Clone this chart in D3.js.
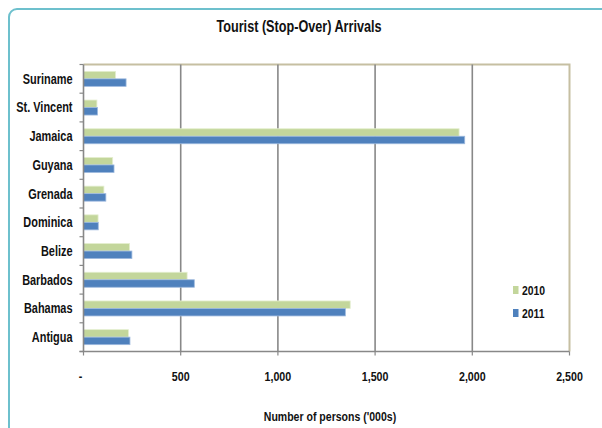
<!DOCTYPE html>
<html>
<head>
<meta charset="utf-8">
<script src="https://cdn.jsdelivr.net/npm/d3@7"></script>
<style>
  html, body { margin: 0; padding: 0; background: #fff; }
  svg { display: block; }
  text { font-family: "Liberation Sans", Arial, sans-serif; font-weight: bold; fill: #111; }
</style>
</head>
<body>
<svg id="chart" width="602" height="428"></svg>
<script>
// Tourist (stop-over) arrivals, thousands of persons
const countries = ["Suriname", "St. Vincent", "Jamaica", "Guyana", "Grenada", "Dominica", "Belize", "Barbados", "Bahamas", "Antigua"];
const years = ["2010", "2011"];
const arrivals2010 = [165, 69, 1932, 150, 105, 75, 237, 533, 1372, 231];
const arrivals2011 = [219, 72, 1961, 157, 115, 76, 249, 570, 1347, 239];
const xTicks = [0, 500, 1000, 1500, 2000, 2500];
const xTickLabels = ["-", "500", "1,000", "1,500", "2,000", "2,500"];
const colors = { "2010": "#c3d69b", "2011": "#4f81bd" };

// narrow the typeface horizontally
function condense(factor) {
  return sel => sel.each(function () {
    const w = this.getComputedTextLength();
    if (w > 0) {
      d3.select(this)
        .attr("textLength", w * factor)
        .attr("lengthAdjust", "spacingAndGlyphs");
    }
  });
}

const svg = d3.select("#chart");

// outer frame
svg.append("rect")
  .attr("x", 9).attr("y", 9)
  .attr("width", 620).attr("height", 440)
  .attr("rx", 8).attr("ry", 8)
  .attr("fill", "none")
  .attr("stroke", "#6dc0cd")
  .attr("stroke-width", 2);

const plot = { left: 83.5, right: 569.5, top: 64.5, bottom: 351.5 };

const x = d3.scaleLinear().domain([0, 2500]).range([plot.left, plot.right]);
const y = d3.scaleBand().domain(countries).range([plot.top, plot.bottom]);
const inner = d3.scaleBand().domain(years).range([0, 15]);
const pad = (y.bandwidth() - 15) / 2;

// plot frame (top/right)
svg.append("path")
  .attr("d", `M${plot.left},${plot.top}H${plot.right}V${plot.bottom}`)
  .attr("fill", "none")
  .attr("stroke", "#c6bfa2")
  .attr("stroke-width", 2);

// vertical gridlines
svg.append("g")
  .selectAll("line")
  .data(xTicks.slice(1, -1))
  .join("line")
  .attr("x1", d => x(d)).attr("x2", d => x(d))
  .attr("y1", plot.top).attr("y2", plot.bottom)
  .attr("stroke", "#888")
  .attr("stroke-width", 1.6);

// bars
const rows = countries.map((c, i) => ({ country: c, values: [
  { year: "2010", value: arrivals2010[i] },
  { year: "2011", value: arrivals2011[i] }
]}));

const groups = svg.append("g")
  .selectAll("g")
  .data(rows)
  .join("g")
  .attr("transform", d => `translate(0,${y(d.country) + pad})`);

groups.selectAll("rect")
  .data(d => d.values)
  .join("rect")
  .attr("x", x(0))
  .attr("y", d => inner(d.year))
  .attr("width", d => x(d.value) - x(0))
  .attr("height", inner.bandwidth())
  .attr("fill", d => colors[d.year])
  .attr("stroke", d => d.year === "2011" ? "#9db9de" : "#e4eecf")
  .attr("stroke-width", 0.8);

// y axis
const yAxis = svg.append("g")
  .attr("transform", `translate(${plot.left},0)`);
yAxis.append("line")
  .attr("x1", 0).attr("x2", 0)
  .attr("y1", plot.top).attr("y2", plot.bottom)
  .attr("stroke", "#888").attr("stroke-width", 1.6);
const yTickPositions = countries.map(c => y(c)).concat([plot.bottom]);
yAxis.selectAll("line.tick")
  .data(yTickPositions)
  .join("line")
  .attr("class", "tick")
  .attr("x1", -4).attr("x2", 0)
  .attr("y1", d => d).attr("y2", d => d)
  .attr("stroke", "#888").attr("stroke-width", 1.2);
yAxis.selectAll("text")
  .data(countries)
  .join("text")
  .attr("x", -11)
  .attr("y", d => y(d) + y.bandwidth() / 2)
  .attr("dy", "0.35em")
  .attr("text-anchor", "end")
  .attr("font-size", 14)
  .text(d => d)
  .call(condense(0.78));

// x axis
const xAxis = svg.append("g");
xAxis.append("line")
  .attr("x1", plot.left - 4).attr("x2", plot.right)
  .attr("y1", plot.bottom).attr("y2", plot.bottom)
  .attr("stroke", "#888").attr("stroke-width", 1.6);
xAxis.selectAll("line.tick")
  .data(xTicks)
  .join("line")
  .attr("class", "tick")
  .attr("x1", d => x(d)).attr("x2", d => x(d))
  .attr("y1", plot.bottom).attr("y2", plot.bottom + 4)
  .attr("stroke", "#888").attr("stroke-width", 1.2);
xAxis.selectAll("text")
  .data(xTicks)
  .join("text")
  .attr("x", (d, i) => i === 0 ? x(d) - 3 : x(d))
  .attr("y", 381)
  .attr("text-anchor", "middle")
  .attr("font-size", 13)
  .text((d, i) => xTickLabels[i])
  .call(condense(0.82));

// titles
svg.append("text")
  .attr("x", 299).attr("y", 32)
  .attr("text-anchor", "middle")
  .attr("font-size", 16)
  .text("Tourist (Stop-Over) Arrivals")
  .call(condense(0.79));

svg.append("text")
  .attr("x", 330).attr("y", 421)
  .attr("text-anchor", "middle")
  .attr("font-size", 13)
  .text("Number of persons ('000s)")
  .call(condense(0.81));

// legend
const legend = svg.append("g")
  .selectAll("g")
  .data(years)
  .join("g")
  .attr("transform", (d, i) => `translate(513,${286 + i * 23})`);
legend.append("rect")
  .attr("width", 5.5).attr("height", 8)
  .attr("fill", d => colors[d]);
legend.append("text")
  .attr("x", 9).attr("y", 4)
  .attr("dy", "0.35em")
  .attr("font-size", 13)
  .text(d => d)
  .call(condense(0.8));
</script>
</body>
</html>
